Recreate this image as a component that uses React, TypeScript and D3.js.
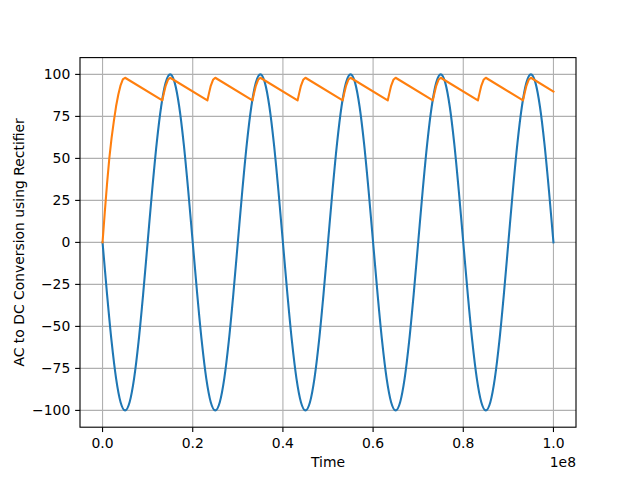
import React from "react";
import * as d3 from "d3";

// time values in units of 1e8 (axis shows offset "1e8")
const acTimes: number[] = [
  0, 0.01, 0.02, 0.03, 0.04, 0.05, 0.06, 0.07, 0.08, 0.09,
  0.1, 0.11, 0.12, 0.13, 0.14, 0.15, 0.16, 0.17, 0.18, 0.19,
  0.2, 0.21, 0.22, 0.23, 0.24, 0.25, 0.26, 0.27, 0.28, 0.29,
  0.3, 0.31, 0.32, 0.33, 0.34, 0.35, 0.36, 0.37, 0.38, 0.39,
  0.4, 0.41, 0.42, 0.43, 0.44, 0.45, 0.46, 0.47, 0.48, 0.49,
  0.5, 0.51, 0.52, 0.53, 0.54, 0.55, 0.56, 0.57, 0.58, 0.59,
  0.6, 0.61, 0.62, 0.63, 0.64, 0.65, 0.66, 0.67, 0.68, 0.69,
  0.7, 0.71, 0.72, 0.73, 0.74, 0.75, 0.76, 0.77, 0.78, 0.79,
  0.8, 0.81, 0.82, 0.83, 0.84, 0.85, 0.86, 0.87, 0.88, 0.89,
  0.9, 0.91, 0.92, 0.93, 0.94, 0.95, 0.96, 0.97, 0.98, 0.99,
  1.0,
];
const acValues: number[] = [
  0, -30.9, -58.8, -80.9, -95.1, -100, -95.1, -80.9, -58.8, -30.9,
  0, 30.9, 58.8, 80.9, 95.1, 100, 95.1, 80.9, 58.8, 30.9,
  0, -30.9, -58.8, -80.9, -95.1, -100, -95.1, -80.9, -58.8, -30.9,
  0, 30.9, 58.8, 80.9, 95.1, 100, 95.1, 80.9, 58.8, 30.9,
  0, -30.9, -58.8, -80.9, -95.1, -100, -95.1, -80.9, -58.8, -30.9,
  0, 30.9, 58.8, 80.9, 95.1, 100, 95.1, 80.9, 58.8, 30.9,
  0, -30.9, -58.8, -80.9, -95.1, -100, -95.1, -80.9, -58.8, -30.9,
  0, 30.9, 58.8, 80.9, 95.1, 100, 95.1, 80.9, 58.8, 30.9,
  0, -30.9, -58.8, -80.9, -95.1, -100, -95.1, -80.9, -58.8, -30.9,
  0, 30.9, 58.8, 80.9, 95.1, 100, 95.1, 80.9, 58.8, 30.9,
  0,
];

const dcTimes: number[] = [
  0, 0.005, 0.01, 0.015, 0.02, 0.025, 0.03, 0.035, 0.04, 0.045, 0.05,
  0.1325, 0.136, 0.14, 0.145, 0.15,
  0.2325, 0.236, 0.24, 0.245, 0.25,
  0.3325, 0.336, 0.34, 0.345, 0.35,
  0.4325, 0.436, 0.44, 0.445, 0.45,
  0.5325, 0.536, 0.54, 0.545, 0.55,
  0.6325, 0.636, 0.64, 0.645, 0.65,
  0.7325, 0.736, 0.74, 0.745, 0.75,
  0.8325, 0.836, 0.84, 0.845, 0.85,
  0.9325, 0.936, 0.94, 0.945, 0.95,
  1.0,
];
const dcValues: number[] = [
  0, 18, 35, 50, 62, 72, 81, 88, 93.5, 97, 98,
  84.5, 88.7, 93.2, 96.8, 98,
  84.5, 88.7, 93.2, 96.8, 98,
  84.5, 88.7, 93.2, 96.8, 98,
  84.5, 88.7, 93.2, 96.8, 98,
  84.5, 88.7, 93.2, 96.8, 98,
  84.5, 88.7, 93.2, 96.8, 98,
  84.5, 88.7, 93.2, 96.8, 98,
  84.5, 88.7, 93.2, 96.8, 98,
  84.5, 88.7, 93.2, 96.8, 98,
  89.8,
];

const xTicks: number[] = [0, 0.2, 0.4, 0.6, 0.8, 1.0];
const xTickLabels: string[] = ["0.0", "0.2", "0.4", "0.6", "0.8", "1.0"];
const yTicks: number[] = [-100, -75, -50, -25, 0, 25, 50, 75, 100];

const W = 640, H = 480;
const L = 80, R = 576, T = 57.6, B = 427.2;
const FONT = "'DejaVu Sans', sans-serif";
const FS = 13.9;
const TL = 4.86;

export default function App() {
  const x = d3.scaleLinear().domain([-0.05, 1.05]).range([L, R]);
  const y = d3.scaleLinear().domain([-110, 110]).range([B, T]);
  const acLine = d3
    .line<[number, number]>()
    .x((d) => x(d[0]))
    .y((d) => y(d[1]))
    .curve(d3.curveMonotoneX)(
    acTimes.map((t, i) => [t, acValues[i]] as [number, number])
  );
  const dcLine = d3
    .line<[number, number]>()
    .x((d) => x(d[0]))
    .y((d) => y(d[1]))
    .curve(d3.curveLinear)(
    dcTimes.map((t, i) => [t, dcValues[i]] as [number, number])
  );

  return (
    <svg
      width={W}
      height={H}
      style={{ position: "absolute", left: 0, top: 0, background: "#fff" }}
      fontFamily={FONT}
    >
      <rect x={0} y={0} width={W} height={H} fill="#fff" />
      <defs>
        <clipPath id="clip">
          <rect x={L} y={T} width={R - L} height={B - T} />
        </clipPath>
      </defs>
      {xTicks.map((t) => (
        <line key={"gx" + t} x1={x(t)} x2={x(t)} y1={T} y2={B} stroke="#b0b0b0" strokeWidth={1.11} />
      ))}
      {yTicks.map((t) => (
        <line key={"gy" + t} x1={L} x2={R} y1={y(t)} y2={y(t)} stroke="#b0b0b0" strokeWidth={1.11} />
      ))}
      <g clipPath="url(#clip)">
        <path d={acLine || ""} fill="none" stroke="#1f77b4" strokeWidth={2.08} strokeLinejoin="round" strokeLinecap="square" />
        <path d={dcLine || ""} fill="none" stroke="#ff7f0e" strokeWidth={2.08} strokeLinejoin="round" strokeLinecap="square" />
      </g>
      <rect x={L} y={T} width={R - L} height={B - T} fill="none" stroke="#000" strokeWidth={1.11} />
      {xTicks.map((t, i) => (
        <g key={"xt" + t}>
          <line x1={x(t)} x2={x(t)} y1={B} y2={B + TL} stroke="#000" strokeWidth={1.11} />
          <text x={x(t)} y={B + 2 * TL + 10.6} textAnchor="middle" fontSize={FS} fill="#000">
            {xTickLabels[i]}
          </text>
        </g>
      ))}
      {yTicks.map((t) => (
        <g key={"yt" + t}>
          <line x1={L - TL} x2={L} y1={y(t)} y2={y(t)} stroke="#000" strokeWidth={1.11} />
          <text x={L - 2 * TL} y={y(t)} dy="0.36em" textAnchor="end" fontSize={FS} fill="#000">
            {t === 0 ? "0" : t < 0 ? "\u2212" + Math.abs(t) : String(t)}
          </text>
        </g>
      ))}
      <text x={R} y={467} textAnchor="end" fontSize={FS} fill="#000">1e8</text>
      <text x={(L + R) / 2} y={467} textAnchor="middle" fontSize={FS} fill="#000">Time</text>
      <text
        transform={`translate(24,${(T + B) / 2}) rotate(-90)`}
        textAnchor="middle"
        fontSize={FS}
        fill="#000"
      >
        AC to DC Conversion using Rectifier
      </text>
    </svg>
  );
}
